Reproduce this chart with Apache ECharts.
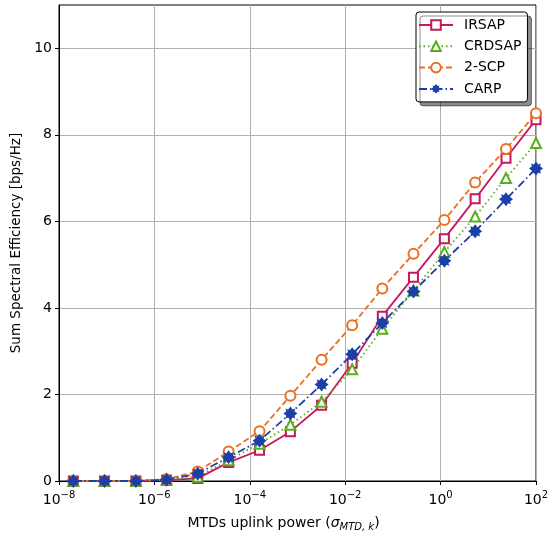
<!DOCTYPE html>
<html>
<head>
<meta charset="utf-8">
<script src="https://cdn.jsdelivr.net/npm/echarts@6/dist/echarts.min.js"></script>
<style>
  html, body { margin: 0; padding: 0; background: #fff; }
  #chart { width: 548px; height: 535px; }
</style>
</head>
<body>
<div id="chart"></div>
<script>
// MTD uplink power levels (linear)
const powers = [2e-8, 9e-8, 4.1e-7, 1.8e-6, 8.1e-6, 3.6e-5, 1.6e-4, 7.1e-4,
                3.2e-3, 1.4e-2, 6.0e-2, 0.27, 1.2, 5.3, 23.5, 100];

// Sum spectral efficiency [bps/Hz] per scheme
const irsap  = [0, 0, 0, 0.02, 0.06, 0.43, 0.71, 1.14, 1.75, 2.72, 3.81, 4.71, 5.60, 6.52, 7.46, 8.35];
const crdsap = [0, 0, 0, 0.03, 0.10, 0.48, 0.86, 1.30, 1.83, 2.58, 3.52, 4.40, 5.29, 6.11, 7.00, 7.81];
const twoScp = [0, 0, 0, 0.04, 0.22, 0.68, 1.15, 1.97, 2.80, 3.60, 4.45, 5.25, 6.03, 6.90, 7.67, 8.50];
const carp   = [0, 0, 0, 0.03, 0.17, 0.55, 0.93, 1.56, 2.23, 2.93, 3.65, 4.38, 5.09, 5.77, 6.51, 7.22];

const seriesNames = ['IRSAP', 'CRDSAP', '2-SCP', 'CARP'];
const yTicks = [0, 2, 4, 6, 8, 10];

const FONT = 'DejaVu Sans';
const pairs = v => powers.map((p, i) => [p, v[i]]);

// eight-pointed filled star used for CARP
const starPath = 'path://M0,-10 L3.2,-5.8 7.1,-7.1 5.8,-3.2 10,0 5.8,3.2 7.1,7.1 3.2,5.8 0,10 -3.2,5.8 -7.1,7.1 -5.8,3.2 -10,0 -5.8,-3.2 -7.1,-7.1 -3.2,-5.8 Z';

const styles = [
  { color: '#c8175a', symbol: 'rect', size: 9, line: 'solid', hollow: true },
  { color: '#5aad1c', symbol: 'triangle', size: 10, line: [1.5, 3], hollow: true },
  { color: '#ea7020', symbol: 'circle', size: 10, line: [6, 3], hollow: true },
  { color: '#1a40a8', symbol: starPath, size: 14, line: [8, 3, 1.5, 3], hollow: false }
];
const dataSets = [irsap, crdsap, twoScp, carp];

const chart = echarts.init(document.getElementById('chart'), null, { renderer: 'canvas' });

chart.setOption({
  animation: false,
  backgroundColor: '#fff',
  textStyle: { fontFamily: FONT },
  grid: {
    left: 59, right: 12, top: 5, bottom: 54,
    outerBoundsMode: 'none',
    containLabel: false,
    show: true, borderColor: '#000', borderWidth: 1, backgroundColor: 'transparent'
  },
  legend: {
    orient: 'vertical',
    left: 416, top: 12,
    padding: [6, 6, 6, 2],
    itemWidth: 34, itemHeight: 12, itemGap: 7.3,
    backgroundColor: '#fff',
    borderColor: '#000', borderWidth: 1, borderRadius: 3,
    shadowColor: 'rgba(0,0,0,0.45)', shadowBlur: 0, shadowOffsetX: 4, shadowOffsetY: 4,
    textStyle: { fontFamily: FONT, fontSize: 14, color: '#000', padding: [0, 0, 0, 6] },
    data: seriesNames
  },
  xAxis: {
    type: 'log',
    logBase: 100,
    min: 1e-8, max: 1e2,
    name: 'MTDs uplink power ({i|σ}{sub|MTD, k})',
    nameLocation: 'middle',
    nameGap: 33,
    nameTextStyle: {
      fontFamily: FONT, fontSize: 14, color: '#000',
      padding: [0, 28, 0, 0],
      rich: {
        i: { fontFamily: FONT, fontSize: 14, fontStyle: 'italic', color: '#000' },
        sub: { fontFamily: FONT, fontSize: 10, fontStyle: 'italic', color: '#000', padding: [8, 0, 0, 0] }
      }
    },
    axisLine: { show: true, lineStyle: { color: '#000', width: 1 } },
    axisTick: { show: true, inside: false, length: 4, lineStyle: { color: '#000' } },
    splitLine: { show: true, lineStyle: { color: '#b0b0b0', width: 1 } },
    minorTick: { show: false },
    axisLabel: {
      margin: 9,
      color: '#000',
      formatter: v => {
        const e = Math.round(Math.log10(v));
        return '{b|10}{s|' + (e < 0 ? '\u2212' : '') + Math.abs(e) + '}';
      },
      rich: {
        b: { fontFamily: FONT, fontSize: 14, color: '#000' },
        s: { fontFamily: FONT, fontSize: 10, color: '#000', padding: [0, 0, 10, 0] }
      }
    }
  },
  yAxis: {
    type: 'value',
    min: 0, max: 11, interval: 2,
    name: 'Sum Spectral Efficiency [bps/Hz]',
    nameLocation: 'middle',
    nameGap: 35,
    nameTextStyle: { fontFamily: FONT, fontSize: 13.5, color: '#000' },
    axisLine: { show: true, lineStyle: { color: '#000', width: 1 } },
    axisTick: { show: true, length: 4, lineStyle: { color: '#000' }, customValues: yTicks },
    axisLabel: {
      margin: 7, color: '#000', fontFamily: FONT, fontSize: 14,
      customValues: yTicks
    },
    splitLine: { show: true, lineStyle: { color: '#b0b0b0', width: 1 } }
  },
  series: dataSets.map((d, i) => {
    const s = styles[i];
    return {
      name: seriesNames[i],
      type: 'line',
      data: pairs(d),
      symbol: s.symbol,
      symbolSize: s.size,
      showAllSymbol: true,
      clip: true,
      z: 2 + i,
      lineStyle: { color: s.color, width: 1.8, type: s.line },
      itemStyle: s.hollow
        ? { color: '#fff', borderColor: s.color, borderWidth: 2 }
        : { color: s.color, borderColor: s.color, borderWidth: 0 },
      emphasis: { disabled: true }
    };
  })
});
</script>
</body>
</html>
